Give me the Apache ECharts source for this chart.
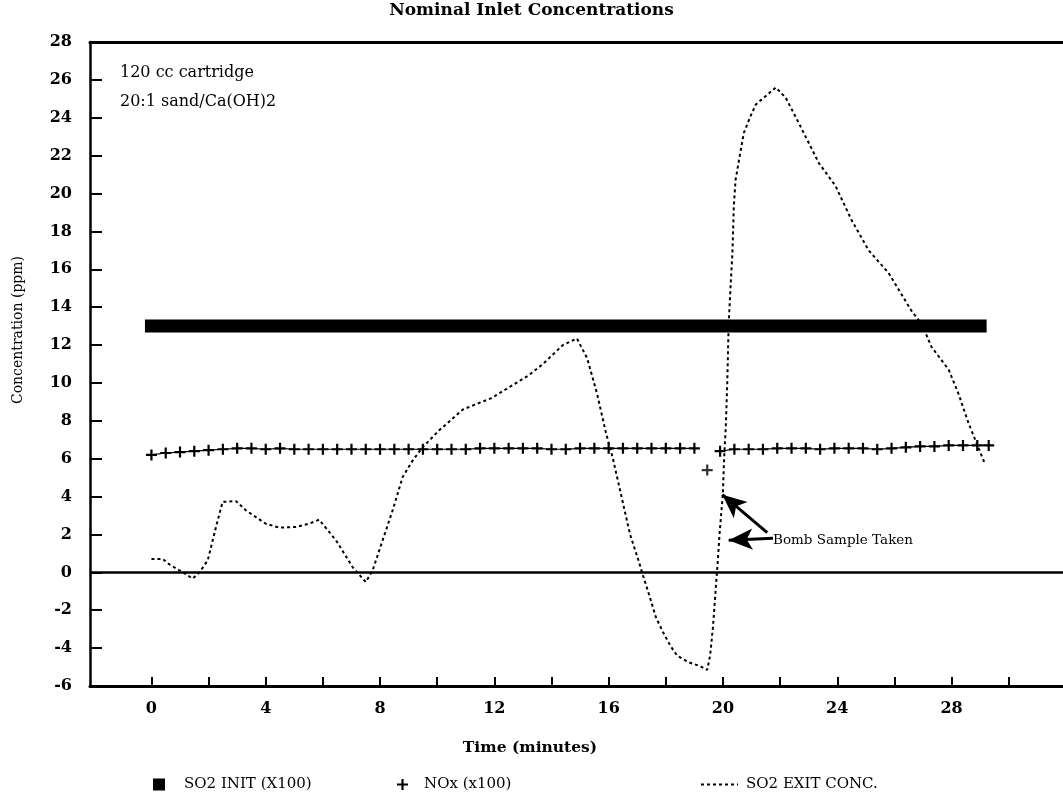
<!DOCTYPE html>
<html lang="en">
<head>
<meta charset="UTF-8">
<title>Nominal Inlet Concentrations</title>
<script src="https://cdn.jsdelivr.net/npm/echarts@6/dist/echarts.min.js"></script>
<style>
  html, body { margin: 0; padding: 0; background: #fff; }
  #chart { width: 1063px; height: 799px; }
</style>
</head>
<body>
<div id="chart"></div>
<script>
// time axis (minutes) ticks and labels
var xTicks = [0, 2, 4, 6, 8, 10, 12, 14, 16, 18, 20, 22, 24, 26, 28, 30];
var xLabels = [0, 4, 8, 12, 16, 20, 24, 28];

// SO2 INIT (X100)
var initTime = [0, 1, 2, 3, 4, 5, 6, 7, 8, 9, 10, 11, 12, 13, 14, 15, 16, 17, 18, 19, 20, 21, 22, 23, 24, 25, 26, 27, 28, 29];
var initValue = [13.0, 13.0, 13.0, 13.0, 13.0, 13.0, 13.0, 13.0, 13.0, 13.0, 13.0, 13.0, 13.0, 13.0, 13.0, 13.0,
                 13.0, 13.0, 13.0, 13.0, 13.0, 13.0, 13.0, 13.0, 13.0, 13.0, 13.0, 13.0, 13.0, 13.0];

// NOx (x100), null = gap where the bomb sample was taken
var noxTime = [0, 0.5, 1, 1.5, 2, 2.5, 3, 3.5, 4, 4.5, 5, 5.5, 6, 6.5, 7, 7.5, 8, 8.5, 9, 9.5, 10, 10.5, 11, 11.5, 12,
               12.5, 13, 13.5, 14, 14.5, 15, 15.5, 16, 16.5, 17, 17.5, 18, 18.5, 19, 19.45,
               19.9, 20.4, 20.9, 21.4, 21.9, 22.4, 22.9, 23.4, 23.9, 24.4, 24.9, 25.4, 25.9, 26.4, 26.9, 27.4, 27.9, 28.4, 28.9, 29.3];
var noxValue = [6.2, 6.3, 6.35, 6.4, 6.45, 6.5, 6.55, 6.55, 6.5, 6.55, 6.5, 6.5, 6.5, 6.5, 6.5, 6.5, 6.5, 6.5, 6.5, 6.5, 6.5,
                6.5, 6.5, 6.55, 6.55, 6.55, 6.55, 6.55, 6.5, 6.5, 6.55, 6.55, 6.55, 6.55, 6.55, 6.55, 6.55, 6.55, 6.55, null,
                6.4, 6.5, 6.5, 6.5, 6.55, 6.55, 6.55, 6.5, 6.55, 6.55, 6.55, 6.5, 6.55, 6.6, 6.65, 6.65, 6.7, 6.7, 6.7, 6.7];
var noxOutlierTime = [19.45];
var noxOutlierValue = [5.4];

// SO2 EXIT CONC.
var exitTime = [0, 0.4, 0.63, 1.1, 1.44, 1.68, 1.97, 2.26, 2.49, 2.96, 3.31, 4.0, 4.48, 5.06, 5.52, 5.87, 6.46, 7.04, 7.5, 7.74,
                8.09, 8.44, 8.79, 9.14, 9.49, 10.07, 10.9, 11.9, 12.3, 13.2, 13.7, 14.4, 14.89, 15.25, 15.6, 15.9, 16.15, 16.45,
                16.75, 17.05, 17.2, 17.4, 17.65, 17.9, 18.17, 18.4, 18.8, 19.2, 19.45, 19.55, 19.65, 19.75, 19.82, 19.88, 19.95,
                20.0, 20.03, 20.06, 20.1, 20.15, 20.2, 20.27, 20.33, 20.38, 20.44, 20.56, 20.73, 20.97, 21.15, 21.85, 22.2, 22.66,
                23.36, 23.94, 24.5, 25.1, 25.8, 26.6, 26.96, 27.3, 27.9, 28.25, 28.6, 29.15];
var exitValue = [0.7, 0.7, 0.42, 0.0, -0.33, 0.0, 0.63, 2.4, 3.72, 3.76, 3.27, 2.57, 2.36, 2.4, 2.57, 2.78, 1.69, 0.28, -0.51, 0.1,
                 1.69, 3.27, 5.03, 5.9, 6.6, 7.5, 8.6, 9.2, 9.57, 10.4, 11.0, 12.0, 12.35, 11.3, 9.4, 7.4, 6.0, 4.0,
                 2.0, 0.6, -0.16, -1.1, -2.36, -3.15, -3.9, -4.4, -4.75, -4.95, -5.15, -4.4, -2.9, -0.8, 0.6, 2.0, 3.3,
                 4.2, 5.6, 6.6, 7.7, 9.96, 13.1, 15.2, 16.8, 19.3, 20.7, 21.75, 23.2, 24.1, 24.7, 25.6, 25.05, 23.7,
                 21.6, 20.4, 18.6, 17.0, 15.8, 13.8, 13.1, 11.9, 10.7, 9.4, 7.85, 5.8];

function pairs(xs, ys) {
    var out = [];
    for (var i = 0; i < xs.length; i++) {
        out.push([xs[i], ys[i]]);
    }
    return out;
}

var serif = 'DejaVu Serif';
var plus = 'path://M4,0h2v4h4v2h-4v4h-2v-4h-4v-2h4z';

var chart = echarts.init(document.getElementById('chart'));

var option = {
    backgroundColor: '#fff',
    animation: false,
    title: {
        text: 'Nominal Inlet Concentrations',
        left: 'center',
        top: -3,
        textStyle: { fontFamily: serif, fontWeight: 'bold', fontSize: 17, color: '#000' }
    },
    grid: { left: 90, right: 0, top: 42, bottom: 113 },
    legend: [
        {
            left: 148, top: 772, itemWidth: 12, itemHeight: 12,
            data: [{ name: 'SO2 INIT (X100)', icon: 'rect' }],
            textStyle: { fontFamily: serif, fontSize: 15, color: '#000', padding: [0, 0, 0, 14] }
        },
        {
            left: 392, top: 772, itemWidth: 11, itemHeight: 11,
            data: [{ name: 'NOx (x100)', icon: plus }],
            textStyle: { fontFamily: serif, fontSize: 15, color: '#000', padding: [0, 0, 0, 11] }
        },
        {
            left: 695, top: 772, itemWidth: 37, itemHeight: 12,
            data: [{ name: 'SO2 EXIT CONC.', itemStyle: { opacity: 0 } }],
            textStyle: { fontFamily: serif, fontSize: 15, color: '#000', padding: [0, 0, 0, 3] }
        }
    ],
    xAxis: [
        {
            type: 'value',
            position: 'bottom',
            min: -2.15,
            max: 31.9,
            axisLine: { onZero: false, lineStyle: { color: '#000', width: 3 } },
            axisTick: { inside: true, length: 9, customValues: xTicks, lineStyle: { color: '#000', width: 2 } },
            axisLabel: {
                customValues: xLabels, margin: 15, color: '#000',
                fontFamily: serif, fontWeight: 'bold', fontSize: 16
            },
            splitLine: { show: false }
        },
        {
            type: 'value',
            position: 'top',
            min: -2.15,
            max: 31.9,
            axisLine: { onZero: false, lineStyle: { color: '#000', width: 3 } },
            axisTick: { show: false },
            axisLabel: { show: false },
            splitLine: { show: false }
        }
    ],
    yAxis: {
        type: 'value',
        min: -6,
        max: 28,
        interval: 2,
        axisLine: { show: true, onZero: false, lineStyle: { color: '#000', width: 2.5 } },
        axisTick: { show: true, inside: true, length: 12, lineStyle: { color: '#000', width: 2 } },
        axisLabel: { margin: 18, color: '#000', fontFamily: serif, fontWeight: 'bold', fontSize: 16 },
        splitLine: { show: false }
    },
    graphic: [
        { type: 'text', x: 120, y: 73, style: { text: '120 cc cartridge', fill: '#000', font: '16px "DejaVu Serif"', textVerticalAlign: 'middle' } },
        { type: 'text', x: 120, y: 102, style: { text: '20:1 sand/Ca(OH)2', fill: '#000', font: '16px "DejaVu Serif"', textVerticalAlign: 'middle' } },
        { type: 'text', x: 773, y: 540, style: { text: 'Bomb Sample Taken', fill: '#000', font: '13.5px "DejaVu Serif"', textVerticalAlign: 'middle' } },
        { type: 'text', x: 18, y: 330, rotation: Math.PI / 2, style: { text: 'Concentration (ppm)', fill: '#000', font: '14px "DejaVu Serif"', textAlign: 'center', textVerticalAlign: 'middle' } },
        { type: 'text', x: 530, y: 748, style: { text: 'Time (minutes)', fill: '#000', font: 'bold 15.5px "DejaVu Serif"', textAlign: 'center', textVerticalAlign: 'middle' } }
    ],
    series: [
        {
            name: 'SO2 INIT (X100)',
            type: 'line',
            data: pairs(initTime, initValue),
            symbol: 'none',
            itemStyle: { color: '#000' },
            lineStyle: { color: '#000', width: 13, cap: 'square' },
            silent: true
        },
        {
            name: 'NOx (x100)',
            type: 'line',
            data: pairs(noxTime, noxValue),
            connectNulls: false,
            symbol: plus,
            symbolSize: 11,
            itemStyle: { color: '#000' },
            lineStyle: { color: '#000', width: 1.2 },
            silent: true
        },
        {
            name: 'NOx (x100)',
            type: 'scatter',
            data: pairs(noxOutlierTime, noxOutlierValue),
            symbol: plus,
            symbolSize: 11,
            itemStyle: { color: '#000' },
            silent: true
        },
        {
            name: 'SO2 EXIT CONC.',
            type: 'line',
            data: pairs(exitTime, exitValue),
            symbol: 'none',
            itemStyle: { color: '#000' },
            lineStyle: { color: '#000', width: 2, type: [3, 3] },
            silent: true,
            markLine: {
                silent: true,
                symbol: ['none', 'none'],
                label: { show: false },
                data: [
                    { yAxis: 0, lineStyle: { color: '#000', width: 2.5, type: 'solid' } },
                    [
                        { coord: [21.55, 2.1], symbol: 'none', lineStyle: { color: '#000', width: 3, type: 'solid' } },
                        { coord: [19.98, 4.1], symbol: 'arrow', symbolSize: [16, 24] }
                    ],
                    [
                        { coord: [21.75, 1.8], symbol: 'none', lineStyle: { color: '#000', width: 3, type: 'solid' } },
                        { coord: [20.2, 1.7], symbol: 'arrow', symbolSize: [16, 24] }
                    ]
                ]
            }
        }
    ]
};

chart.setOption(option);
</script>
</body>
</html>
